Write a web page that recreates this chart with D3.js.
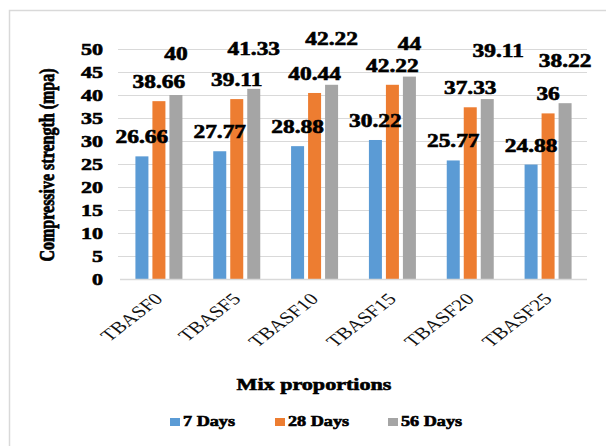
<!DOCTYPE html>
<html>
<head>
<meta charset="utf-8">
<script src="https://cdn.jsdelivr.net/npm/d3@7"></script>
<style>
  html, body { margin: 0; padding: 0; background: #fff; }
  svg { display: block; }
</style>
</head>
<body>
<svg id="chart" width="606" height="446"></svg>
<script>
// Compressive strength of the mixes at three curing ages
const categories = ["TBASF0", "TBASF5", "TBASF10", "TBASF15", "TBASF20", "TBASF25"];
const seriesNames = ["7 Days", "28 Days", "56 Days"];
const days7  = [26.66, 27.77, 28.88, 30.22, 25.77, 24.88];
const days28 = [38.66, 39.11, 40.44, 42.22, 37.33, 36];
const days56 = [40, 41.33, 42.22, 44, 39.11, 38.22];
const yTicks = [0, 5, 10, 15, 20, 25, 30, 35, 40, 45, 50];

// label placement above each bar (px), per series / per bar
const labelLift = [
  [13, 13, 13, 13, 13, 13],
  [13, 13, 13, 13, 13, 13],
  [35, 34, 40, 27, 42, 36]
];
const labelShift = [
  [0, 0, 0, 0, 0, 0],
  [0, 0, 0, 0, 0, 0],
  [0, 0, 0, 0, 11, 0]
];

const colors = ["#5B9BD5", "#ED7D31", "#A5A5A5"];
const SX = 1.3; // horizontal text stretch
const SERIF = "'Liberation Serif', 'Times New Roman', serif";

const values = [days7, days28, days56];
const rows = categories.map((c, i) => ({
  cat: c,
  vals: seriesNames.map((s, k) => ({ series: s, k, i, v: values[k][i] }))
}));

const svg = d3.select("#chart");

// heavy bold text styling
function heavy(sel, size) {
  sel.style("font-family", SERIF)
    .style("font-size", size + "px")
    .style("font-weight", "bold")
    .style("fill", "#000")
    .style("stroke", "#000")
    .style("stroke-width", "0.6px");
  return sel;
}

// outer chart frame
svg.append("rect")
  .attr("x", 9.5).attr("y", 10.5)
  .attr("width", 700).attr("height", 500)
  .attr("fill", "none").attr("stroke", "#d9d9d9").attr("stroke-width", 1.5);

const plot = { left: 120, right: 587, top: 49, bottom: 279 };

const x0 = d3.scaleBand().domain(categories).range([plot.left, plot.right]).padding(0);
const subW = 47;
const x1 = d3.scaleBand().domain(seriesNames).range([0, subW]).paddingInner(0.235).paddingOuter(0);
const y = d3.scaleLinear().domain([0, 50]).range([plot.bottom, plot.top]);

// horizontal gridlines
svg.append("g").selectAll("line")
  .data(yTicks.filter(t => t > 0))
  .join("line")
  .attr("x1", 118).attr("x2", plot.right)
  .attr("y1", d => Math.round(y(d)) + 0.5).attr("y2", d => Math.round(y(d)) + 0.5)
  .attr("stroke", "#d9d9d9").attr("stroke-width", 1);

// y axis labels
const yAxis = svg.append("g")
  .attr("transform", `translate(118,0)`)
  .call(d3.axisLeft(y).tickValues(yTicks).tickSize(0).tickFormat(d3.format("d")));
yAxis.select(".domain").remove();
yAxis.selectAll("text")
  .attr("x", 0).attr("dy", "0.35em")
  .attr("transform", `translate(-15,0) scale(${SX},1)`)
  .attr("text-anchor", "end")
  .call(heavy, 17);

// bars
const groups = svg.append("g").selectAll("g")
  .data(rows)
  .join("g")
  .attr("transform", d => `translate(${x0(d.cat) + (x0.bandwidth() - subW) / 2},0)`);

groups.selectAll("rect")
  .data(d => d.vals)
  .join("rect")
  .attr("x", d => x1(d.series))
  .attr("y", d => y(d.v))
  .attr("width", x1.bandwidth())
  .attr("height", d => y(0) - y(d.v))
  .attr("fill", d => colors[d.k]);

// value labels
groups.selectAll("text.val")
  .data(d => d.vals)
  .join("text")
  .attr("class", "val")
  .attr("transform", d => `translate(${x1(d.series) + x1.bandwidth() / 2 + labelShift[d.k][d.i]},${y(d.v) - labelLift[d.k][d.i]}) scale(${SX},1)`)
  .attr("text-anchor", "middle")
  .call(heavy, 18)
  .text(d => d3.format("~f")(d.v));

// x axis line
svg.append("line")
  .attr("x1", plot.left).attr("x2", plot.right)
  .attr("y1", plot.bottom + 0.5).attr("y2", plot.bottom + 0.5)
  .attr("stroke", "#d9d9d9").attr("stroke-width", 1.5);

// x axis category labels
const xAxis = svg.append("g")
  .attr("transform", `translate(0,${plot.bottom})`)
  .call(d3.axisBottom(x0).tickSize(0));
xAxis.select(".domain").remove();
xAxis.selectAll("text")
  .attr("x", 0).attr("y", 0).attr("dy", 0)
  .attr("transform", `translate(5,21) scale(${SX},1) rotate(-45)`)
  .attr("text-anchor", "end")
  .style("font-family", SERIF)
  .style("font-size", "16.5px")
  .style("fill", "#111");

// y axis title
svg.append("text")
  .attr("transform", `translate(47,165) scale(${SX},1) rotate(-90)`)
  .attr("text-anchor", "middle")
  .attr("dominant-baseline", "central")
  .call(heavy, 16)
  .text("Compressive strength (mpa)");

// x axis title
svg.append("text")
  .attr("transform", `translate(314,390) scale(${SX},1)`)
  .attr("text-anchor", "middle")
  .call(heavy, 17)
  .text("Mix proportions");

// legend
const legendX = [170, 275, 388];
const legend = svg.append("g").selectAll("g")
  .data(seriesNames)
  .join("g")
  .attr("transform", (d, k) => `translate(${legendX[k]},418)`);
legend.append("rect")
  .attr("width", 10).attr("height", 8)
  .attr("fill", (d, k) => colors[k]);
legend.append("text")
  .attr("transform", `translate(13,8) scale(${SX},1)`)
  .call(heavy, 14)
  .text(d => d);
</script>
</body>
</html>
